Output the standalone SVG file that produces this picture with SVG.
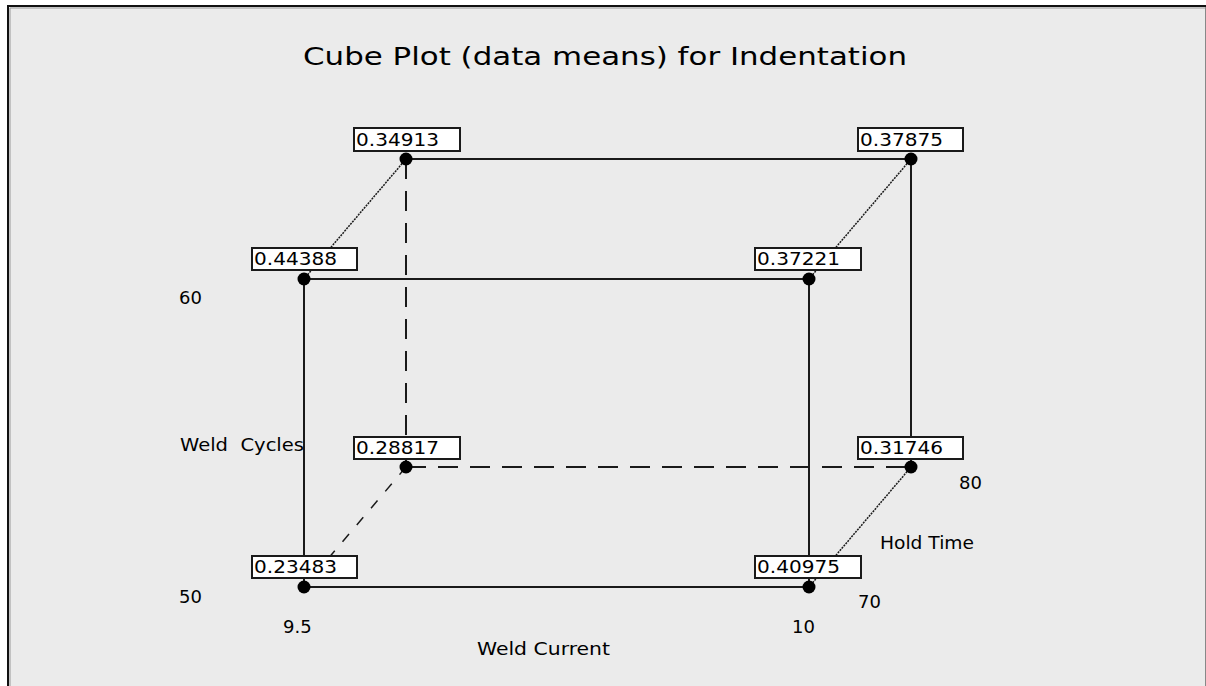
<svg xmlns="http://www.w3.org/2000/svg" width="1206" height="686" viewBox="0 0 1206 686">
<style>
.t{font-family:"DejaVu Sans","Liberation Sans",sans-serif;font-size:18px;fill:#000}
.v{font-family:"DejaVu Sans","Liberation Sans",sans-serif;font-size:18px;fill:#000}
.box{fill:#ffffff;stroke:#1a1a1a;stroke-width:2}
.dot{fill:#000}
.solid{stroke:#1a1a1a;stroke-width:2;fill:none}
.dash{stroke:#1a1a1a;stroke-width:2;fill:none;stroke-dasharray:20 12}
.dash2{stroke:#1a1a1a;stroke-width:1.5;fill:none;stroke-dasharray:10 12}
.dotl{stroke:#1a1a1a;stroke-width:1.5;fill:none;stroke-dasharray:2 1}
</style>
<rect x="0" y="0" width="1206" height="686" fill="#ffffff"/>
<rect x="8" y="7" width="1198" height="679" fill="#ebebeb"/>
<line x1="7" y1="6" x2="1206" y2="6" stroke="#111" stroke-width="2"/>
<line x1="8" y1="6" x2="8" y2="686" stroke="#111" stroke-width="2"/>
<line x1="10" y1="8" x2="10" y2="686" stroke="#999" stroke-width="1"/>
<line x1="10" y1="8" x2="1206" y2="8" stroke="#999" stroke-width="1"/>
<line x1="1205.5" y1="7" x2="1205.5" y2="686" stroke="#888" stroke-width="1"/>
<text x="303" y="65" font-family="DejaVu Sans,Liberation Sans,sans-serif" font-size="25" fill="#000" textLength="604" lengthAdjust="spacingAndGlyphs">Cube Plot (data means) for Indentation</text>
<g id="connectors">
<line class="solid" x1="406" y1="159" x2="911" y2="159"/>
<line class="solid" x1="911" y1="159" x2="911" y2="467"/>
<line class="dash" x1="406" y1="159" x2="406" y2="467"/>
<line class="dash" x1="406" y1="467" x2="911" y2="467"/>
<line class="dotl" x1="406" y1="159" x2="304" y2="279"/>
<line class="dotl" x1="911" y1="159" x2="809" y2="279"/>
<line class="dotl" x1="911" y1="467" x2="809" y2="587"/>
<line class="dash2" x1="406" y1="467" x2="304" y2="587"/>
<line class="solid" x1="304" y1="279" x2="809" y2="279"/>
<line class="solid" x1="304" y1="279" x2="304" y2="587"/>
<line class="solid" x1="809" y1="279" x2="809" y2="587"/>
<line class="solid" x1="304" y1="587" x2="809" y2="587"/>
</g>
<g id="n_34913"><rect class="box" x="354" y="128" width="106" height="23"/><text class="v" x="356" y="146" textLength="83" lengthAdjust="spacingAndGlyphs">0.34913</text><circle class="dot" cx="406" cy="159" r="6.5"/></g>
<g id="n_37875"><rect class="box" x="858" y="128" width="105" height="23"/><text class="v" x="860" y="146" textLength="83" lengthAdjust="spacingAndGlyphs">0.37875</text><circle class="dot" cx="911" cy="159" r="6.5"/></g>
<g id="n_44388"><rect class="box" x="252" y="248" width="105" height="22"/><text class="v" x="254" y="265" textLength="83" lengthAdjust="spacingAndGlyphs">0.44388</text><circle class="dot" cx="304" cy="279" r="6.5"/></g>
<g id="n_37221"><rect class="box" x="755" y="248" width="106" height="22"/><text class="v" x="757" y="265" textLength="83" lengthAdjust="spacingAndGlyphs">0.37221</text><circle class="dot" cx="809" cy="279" r="6.5"/></g>
<g id="n_28817"><rect class="box" x="354" y="437" width="106" height="22"/><text class="v" x="356" y="454" textLength="83" lengthAdjust="spacingAndGlyphs">0.28817</text><circle class="dot" cx="406" cy="467" r="6.5"/></g>
<g id="n_31746"><rect class="box" x="858" y="437" width="105" height="22"/><text class="v" x="860" y="454" textLength="83" lengthAdjust="spacingAndGlyphs">0.31746</text><circle class="dot" cx="911" cy="467" r="6.5"/></g>
<g id="n_23483"><rect class="box" x="252" y="556" width="105" height="22"/><text class="v" x="254" y="573" textLength="83" lengthAdjust="spacingAndGlyphs">0.23483</text><circle class="dot" cx="304" cy="587" r="6.5"/></g>
<g id="n_40975"><rect class="box" x="755" y="556" width="106" height="22"/><text class="v" x="757" y="573" textLength="83" lengthAdjust="spacingAndGlyphs">0.40975</text><circle class="dot" cx="809" cy="587" r="6.5"/></g>
<g id="labels">
<text class="t" x="179" y="304">60</text>
<text class="t" x="180" y="451" xml:space="preserve" textLength="124" lengthAdjust="spacingAndGlyphs">Weld  Cycles</text>
<text class="t" x="179" y="603">50</text>
<text class="t" x="283" y="633">9.5</text>
<text class="t" x="477" y="655" textLength="133" lengthAdjust="spacingAndGlyphs">Weld Current</text>
<text class="t" x="792" y="633">10</text>
<text class="t" x="858" y="608">70</text>
<text class="t" x="880" y="549" textLength="94" lengthAdjust="spacingAndGlyphs">Hold Time</text>
<text class="t" x="959" y="489">80</text>
</g>
</svg>
